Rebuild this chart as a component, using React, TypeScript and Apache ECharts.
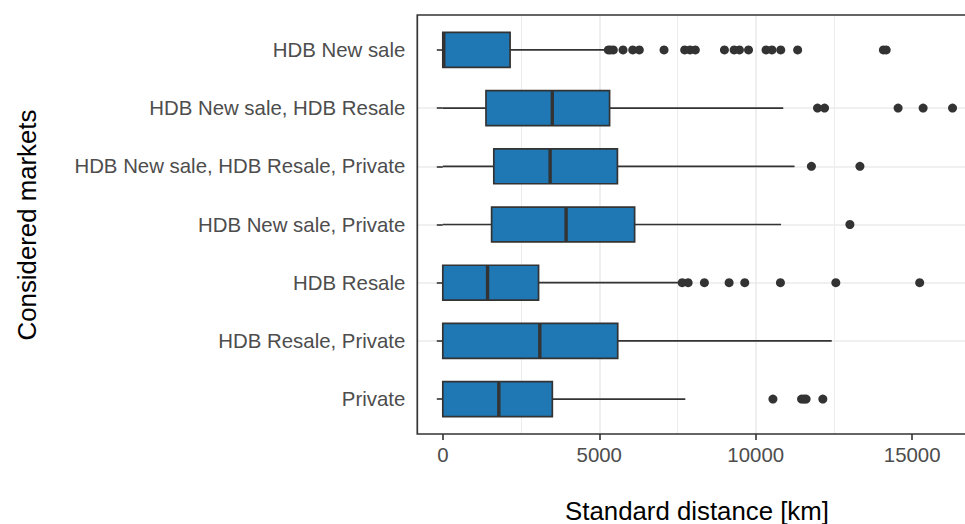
import React, { useEffect, useRef } from "react";
import * as echarts from "echarts";

const categories = [
  "HDB New sale",
  "HDB New sale, HDB Resale",
  "HDB New sale, HDB Resale, Private",
  "HDB New sale, Private",
  "HDB Resale",
  "HDB Resale, Private",
  "Private",
];
const lowWhisker = [0, 0, 0, 0, 0, 0, 0];
const q1 = [0, 1380, 1630, 1560, 0, 0, 0];
const median = [30, 3500, 3430, 3940, 1430, 3100, 1790];
const q3 = [2150, 5330, 5580, 6130, 3060, 5590, 3500];
const highWhisker = [5260, 10880, 11240, 10810, 7610, 12430, 7750];
const outliers = [
  [5290, 5360, 5450, 5760, 6070, 6280, 7070, 7730, 7900, 8070, 9000, 9310, 9480, 9770, 10330, 10520, 10800, 11340, 14080, 14170],
  [11975, 12200, 14550, 15350, 16290],
  [11780, 13330],
  [13010],
  [7650, 7840, 8360, 9150, 9650, 10790, 12560, 15240],
  [],
  [10550, 11465, 11545, 11610, 12145],
];
const xTicks = [0, 5000, 10000, 15000];
const xMin = -815;
const xMax = 17110;

const FONT = "'Liberation Sans', Arial, Helvetica, sans-serif";

export default function App() {
  const ref = useRef<HTMLDivElement>(null);
  useEffect(() => {
    if (!ref.current) return;
    const chart = echarts.init(ref.current, undefined, { renderer: "svg" });
    const boxData = categories.map((_, i) => [i + 1, lowWhisker[i], q1[i], median[i], q3[i], highWhisker[i]]);
    const outlierData: number[][] = [];
    outliers.forEach((arr, i) => arr.forEach((v) => outlierData.push([v, i + 1])));
    const catPos = categories.map((_, i) => i + 1);
    const gridLeft = 417.3;
    const gridRight = 1000 - 978.2;
    const gridTop = 15;
    const gridBottom = 90;
    chart.setOption({
      animation: false,
      backgroundColor: "#ffffff",
      textStyle: { fontFamily: FONT },
      grid: { left: gridLeft, right: gridRight, top: gridTop, bottom: gridBottom, containLabel: false, outerBoundsMode: "none" },
      xAxis: {
        type: "value",
        min: xMin,
        max: xMax,
        splitNumber: 4,
        minInterval: 5000,
        maxInterval: 5000,
        axisLine: { show: false },
        axisTick: { show: true, length: 6, customValues: xTicks, lineStyle: { color: "#333333", width: 1.6 } },
        axisLabel: { customValues: xTicks, fontSize: 20.4, color: "#4D4D4D", margin: 11, fontFamily: FONT,
          formatter: (v: number) => (v % 5000 === 0 ? String(v) : "") },
        splitLine: { show: true, showMinLine: false, showMaxLine: false, lineStyle: { color: "#EBEBEB", width: 1.6 } },
        minorTick: { show: false, splitNumber: 2 },
        minorSplitLine: { show: true, lineStyle: { color: "#ECECEC", width: 1 } },
      },
      yAxis: {
        type: "value",
        inverse: true,
        min: 0.4,
        max: 7.6,
        minInterval: 1,
        maxInterval: 1,
        axisLine: { show: false },
        axisTick: { show: true, length: 6, customValues: catPos, lineStyle: { color: "#333333", width: 1.6 } },
        axisLabel: {
          customValues: catPos,
          fontSize: 20.4,
          color: "#4D4D4D",
          margin: 12,
          fontFamily: FONT,
          formatter: (v: number) => (Math.abs(v - Math.round(v)) < 1e-6 ? categories[Math.round(v) - 1] ?? "" : ""),
        },
        splitLine: { show: true, showMinLine: false, showMaxLine: false, lineStyle: { color: "#EBEBEB", width: 1.6 } },
      },
      series: [
        {
          type: "custom",
          data: boxData,
          encode: { x: [1, 2, 3, 4, 5], y: 0 },
          z: 3,
          renderItem: (params: any, api: any) => {
            const cat = api.value(0);
            const lo = api.coord([api.value(1), cat]);
            const a = api.coord([api.value(2), cat]);
            const m = api.coord([api.value(3), cat]);
            const b = api.coord([api.value(4), cat]);
            const hi = api.coord([api.value(5), cat]);
            const y1 = api.coord([api.value(2), cat - 0.3])[1];
            const y2 = api.coord([api.value(2), cat + 0.3])[1];
            const top = Math.min(y1, y2);
            const h = Math.abs(y2 - y1);
            const lineStyle = { stroke: "#333333", lineWidth: 1.7, fill: "none" };
            return {
              type: "group",
              children: [
                { type: "line", shape: { x1: lo[0], y1: lo[1], x2: a[0], y2: a[1] }, style: lineStyle },
                { type: "line", shape: { x1: b[0], y1: b[1], x2: hi[0], y2: hi[1] }, style: lineStyle },
                { type: "rect", shape: { x: a[0], y: top, width: b[0] - a[0], height: h }, style: { fill: "#1F77B4", stroke: "#333333", lineWidth: 1.7 } },
                { type: "line", shape: { x1: m[0], y1: top, x2: m[0], y2: top + h }, style: { stroke: "#333333", lineWidth: 3.4 } },
              ],
            };
          },
        },
        {
          type: "scatter",
          data: outlierData,
          symbol: "circle",
          symbolSize: 9,
          z: 4,
          itemStyle: { color: "#333333", opacity: 1 },
        },
      ],
      graphic: [
        {
          type: "rect",
          z: 100,
          silent: true,
          shape: { x: gridLeft, y: gridTop, width: 978.2 - gridLeft, height: 524 - gridBottom - gridTop },
          style: { fill: "none", stroke: "#333333", lineWidth: 1.7 },
        },
        {
          type: "text",
          z: 100,
          x: 697,
          y: 511,
          style: { text: "Standard distance [km]", fontSize: 25.8, fontFamily: FONT, fill: "#000000", align: "center", verticalAlign: "middle", textAlign: "center", textVerticalAlign: "middle" },
        },
        {
          type: "text",
          z: 100,
          x: 27,
          y: 225,
          rotation: Math.PI / 2,
          style: { text: "Considered markets", fontSize: 25.8, fontFamily: FONT, fill: "#000000", align: "center", verticalAlign: "middle", textAlign: "center", textVerticalAlign: "middle" },
        },
      ],
    });
    return () => chart.dispose();
  }, []);
  return (
    <div style={{ position: "fixed", left: 0, top: 0, width: 965, height: 524, overflow: "hidden", background: "#fff" }}>
      <div ref={ref} style={{ width: 1000, height: 524 }} />
    </div>
  );
}
